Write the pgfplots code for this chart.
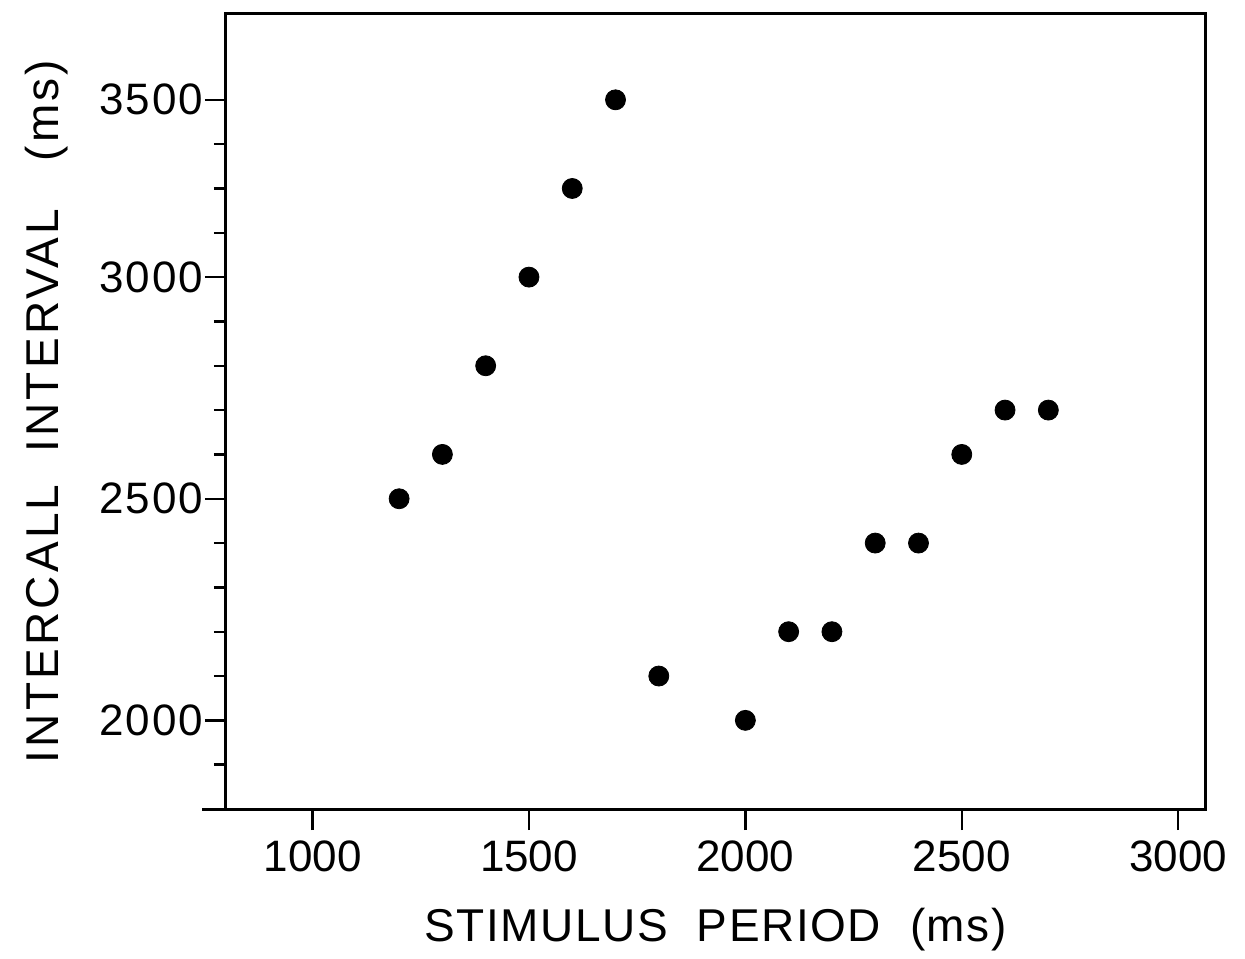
\documentclass[border=0pt]{standalone}
\usepackage{fontspec}
\setmainfont{Liberation Sans}
\usepackage{pgfplots}
\pgfplotsset{compat=1.18}

\begin{document}
\begin{tikzpicture}
\begin{axis}[
    scale only axis,
    width=489.5pt, height=397.5pt,
    xmin=800, xmax=3062,
    ymin=1800, ymax=3742,
    % the printed scale is squeezed above 3000 (ticks at 3000 and 3500 only 4 minor steps apart)
    y coord trafo/.code={\pgfmathparse{min(#1,3000)+0.8*max(#1-3000,0)}},
    y coord inv trafo/.code={\pgfmathparse{min(#1,3000)+1.25*max(#1-3000,0)}},
    xtick={1000,1500,2000,2500,3000},
    ytick={2000,2500,3000,3500},
    yticklabels={2000,2500,3000,3500},
    minor ytick={1900,2100,2200,2300,2400,2600,2700,2800,2900,3125,3250,3375},
    xtick pos=bottom, ytick pos=left,
    tick align=outside,
    major tick length=10.5pt,
    minor tick length=6pt,
    tick style={line width=1.2pt, black},
    axis line style={line width=1.5pt},
    scaled ticks=false,
    /pgf/number format/assume math mode=true,
    /pgf/number format/set thousands separator={},
    ticklabel style={font=\fontsize{22}{24}\selectfont},
    xticklabel style={yshift=-2pt},
    yticklabel style={xshift=2.5pt, font=\fontsize{22}{24}\selectfont\addfontfeatures{LetterSpace=4}},
    xlabel={STIMULUS\ \ PERIOD\ \ (ms)},
    ylabel={INTERCALL\ \ INTERVAL\ \ \ (ms)},
    xlabel style={font=\fontsize{23}{26}\selectfont\addfontfeatures{LetterSpace=3.5},
        at={(axis description cs:0.5,0)}, anchor=center, yshift=-60.5pt},
    ylabel style={font=\fontsize{23}{26}\selectfont\addfontfeatures{LetterSpace=7},
        at={(axis description cs:0,0.5)}, anchor=center, yshift=89.5pt},
]
\addplot[only marks, mark=*, mark size=5pt, black] coordinates {
    (1200,2500) (1300,2600) (1400,2800) (1500,3000) (1600,3250)
    (1700,3500) (1800,2100) (2000,2000) (2100,2200) (2200,2200)
    (2300,2400) (2400,2400) (2500,2600) (2600,2700) (2700,2700)
};
\coordinate (o) at (rel axis cs:0,0);
\end{axis}
\draw[line width=1.5pt] (o) -- ++(-12pt,0);
\path (o) ++(-113pt,-74.5pt) rectangle ++(622.5pt,479pt);
\end{tikzpicture}
\end{document}
